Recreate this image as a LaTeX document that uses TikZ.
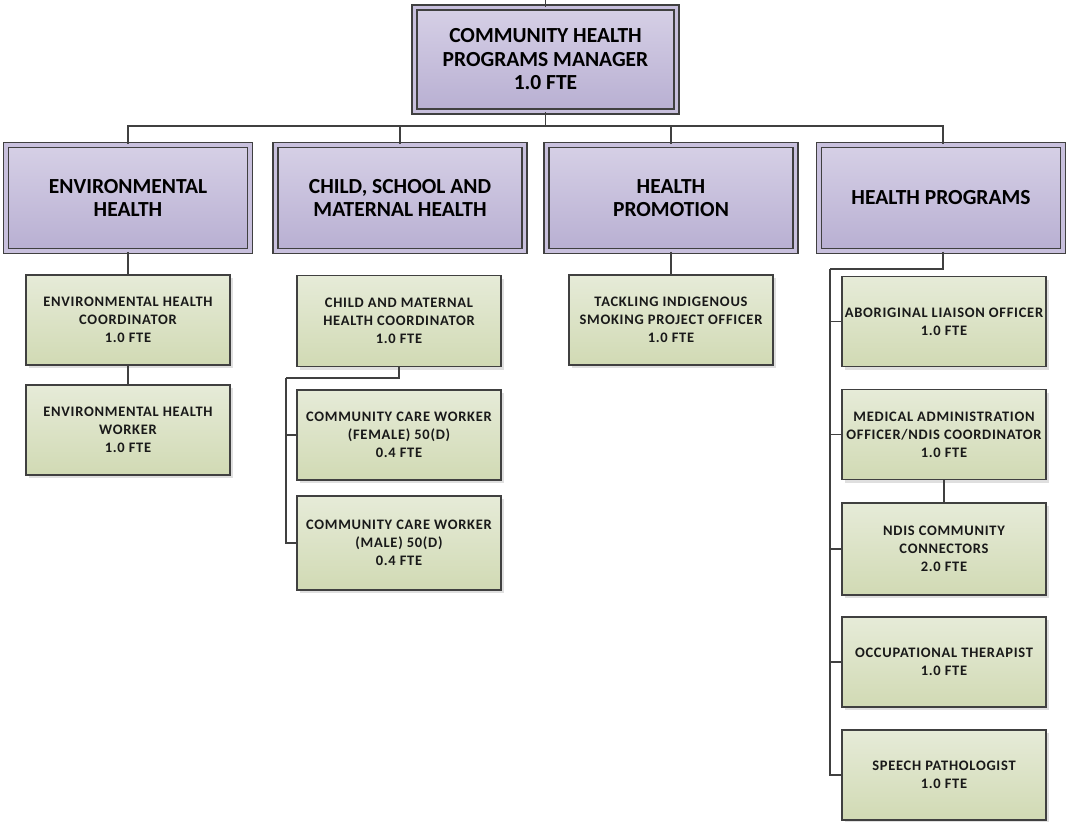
\documentclass[tikz,border=0pt]{standalone}
\usepackage{fontspec}
\setmainfont{Carlito}
\newfontfamily\rolefont[LetterSpace=5]{Carlito}
\usepackage{tikz}
\usetikzlibrary{positioning}
\usetikzlibrary{shadows}
\usepackage{xcolor}
\definecolor{lineclr}{HTML}{404040}
\definecolor{purptop}{RGB}{214,208,230}
\definecolor{purpbot}{RGB}{184,175,210}
\definecolor{purpmid}{RGB}{200,192,221}
\definecolor{greentop}{RGB}{230,235,216}
\definecolor{greenbot}{RGB}{209,218,180}

\begin{document}
\begin{tikzpicture}[x=1pt, y=-1pt]
      \tikzstyle{unit}=[font={\bfseries\fontsize{21.5}{23.5}\selectfont}, align=center, draw=lineclr, line width=1.5pt,
        double=purpmid, double distance=3.5pt, top color=purptop, bottom color=purpbot,
        drop shadow={shadow xshift=3pt, shadow yshift=-3pt, fill=black!30},
        minimum width=244pt, minimum height=106pt, inner sep=2pt]
      \tikzstyle{role}=[font={\rolefont\bfseries\fontsize{14.5}{18}\selectfont}, align=center, draw=lineclr, line width=1.4pt,
        top color=greentop, bottom color=greenbot,
        drop shadow={shadow xshift=3pt, shadow yshift=-3pt, fill=black!25},
        minimum width=204pt, minimum height=90pt, inner sep=1pt, text=black!90]
      \tikzstyle{link}=[draw=lineclr, line width=1.6pt]

      \useasboundingbox (0,0) rectangle (1067,821);

      % manager
      \node[unit, minimum width=262pt, minimum height=104pt] (mgr) at (545.5,59.5) {COMMUNITY HEALTH\\PROGRAMS MANAGER\\1.0 FTE};
      \coordinate (mgrtop) at (545.5,0);

      % sections
      \node[unit] (env) at (128,198) {ENVIRONMENTAL\\HEALTH};
      \node[unit, minimum width=249pt] (child) at (400,198) {CHILD, SCHOOL AND\\MATERNAL HEALTH};
      \node[unit, minimum width=249pt] (promo) at (671,198) {HEALTH\\PROMOTION};
      \node[unit] (progs) at (941,198) {HEALTH PROGRAMS};

      % environmental health
      \node[role] (envcoord) at (128,320) {ENVIRONMENTAL HEALTH\\COORDINATOR\\1.0 FTE};
      \node[role] (envworker) at (128,430) {ENVIRONMENTAL HEALTH\\WORKER\\1.0 FTE};

      % child, school and maternal health
      \node[role, minimum height=91pt] (cmcoord) at (399,321) {CHILD AND MATERNAL\\HEALTH COORDINATOR\\1.0 FTE};
      \node[role] (ccwfemale) at (399,435) {COMMUNITY CARE WORKER\\(FEMALE) 50(D)\\0.4 FTE};
      \node[role, minimum height=94pt] (ccwmale) at (399,543) {COMMUNITY CARE WORKER\\(MALE) 50(D)\\0.4 FTE};
      \coordinate (childbus) at (286,378);

      % health promotion
      \node[role] (smoking) at (671,320) {TACKLING INDIGENOUS\\SMOKING PROJECT OFFICER\\1.0 FTE};

      % health programs
      \node[role] (liaison) at (944,321.5) {ABORIGINAL LIAISON OFFICER\\1.0 FTE};
      \node[role] (medadmin) at (944,434.5) {MEDICAL ADMINISTRATION\\OFFICER/NDIS COORDINATOR\\1.0 FTE};
      \node[role, minimum height=92pt] (ndis) at (944,549) {NDIS COMMUNITY\\CONNECTORS\\2.0 FTE};
      \node[role] (occther) at (944,662) {OCCUPATIONAL THERAPIST\\1.0 FTE};
      \node[role] (speech) at (944,775) {SPEECH PATHOLOGIST\\1.0 FTE};
      \coordinate (progbus) at (830,269);

      % links
      \draw[link] (mgrtop) -- (mgr.north);
      \foreach \sec in {env, child, promo} {
        \draw[link] (mgr.south) -- ++(0,14) -| (\sec.north);
      }
      \draw[link] (mgr.south) -- ++(0,14) -| ([xshift=2pt]progs.north);

      \draw[link] (env.south) -- (envcoord.north);
      \draw[link] (envcoord.south) -- (envworker.north);

      \draw[link] (cmcoord.south) |- (childbus);
      \draw[link] (childbus) |- (ccwfemale.west);
      \draw[link] (childbus) |- (ccwmale.west);

      \draw[link] (promo.south) -- (smoking.north);

      \draw[link] ([xshift=2pt]progs.south) |- (progbus);
      \foreach \job in {liaison, medadmin, ndis, occther, speech} {
        \draw[link] (progbus) |- (\job.west);
      }
      \draw[link] (medadmin.south) -- (ndis.north);
\end{tikzpicture}
\end{document}
